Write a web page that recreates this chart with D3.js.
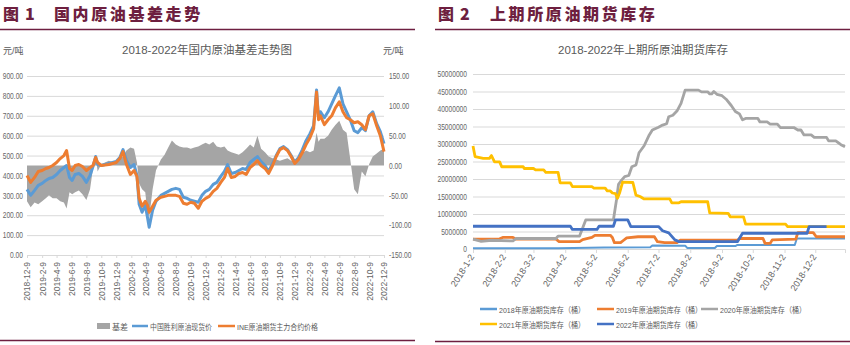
<!DOCTYPE html>
<html><head><meta charset="utf-8">
<script src="https://cdn.jsdelivr.net/npm/d3@7"></script>
<style>
body{margin:0;background:#fff;}
svg{display:block;}
.num{font-family:"Liberation Sans",Arial,sans-serif;fill:#666;}
.cjk{font-family:"Liberation Sans","Noto Sans CJK SC",sans-serif;fill:#595959;}
.ttl{font-family:"Noto Sans CJK SC",sans-serif;font-weight:900;fill:#6e1f40;}
</style></head><body>
<svg id="c" width="850" height="345"></svg>
<script>
// ---------- Figure 1 data ----------
const dates1 = ["2018-12-09","2018-12-24","2019-01-09","2019-01-24","2019-02-09","2019-02-24","2019-03-09","2019-03-24","2019-04-09","2019-04-24","2019-05-09","2019-05-20","2019-06-01","2019-06-12","2019-06-24","2019-07-09","2019-07-24","2019-08-09","2019-08-24","2019-09-05","2019-09-16","2019-09-24","2019-10-09","2019-10-24","2019-11-09","2019-11-24","2019-12-09","2019-12-24","2020-01-06","2020-01-20","2020-02-05","2020-02-20","2020-03-03","2020-03-12","2020-03-24","2020-04-06","2020-04-15","2020-04-22","2020-05-06","2020-05-20","2020-06-09","2020-06-24","2020-07-09","2020-07-24","2020-08-09","2020-08-24","2020-09-09","2020-09-24","2020-10-09","2020-10-24","2020-11-09","2020-11-24","2020-12-09","2020-12-24","2021-01-09","2021-01-24","2021-02-09","2021-02-24","2021-03-09","2021-03-24","2021-04-09","2021-04-24","2021-05-09","2021-05-24","2021-06-09","2021-06-24","2021-07-09","2021-07-24","2021-08-09","2021-08-24","2021-09-09","2021-09-24","2021-10-09","2021-10-24","2021-11-09","2021-11-24","2021-12-09","2021-12-24","2022-01-09","2022-01-24","2022-02-09","2022-02-24","2022-03-08","2022-03-16","2022-03-24","2022-04-09","2022-04-24","2022-05-09","2022-05-24","2022-06-09","2022-06-24","2022-07-09","2022-07-24","2022-08-09","2022-08-24","2022-09-09","2022-09-24","2022-10-09","2022-10-24","2022-11-09","2022-11-24","2022-12-09"];
const spotPrice = [330,300,325,350,360,375,385,390,405,425,440,450,390,375,405,410,395,365,400,445,495,455,450,455,460,465,470,490,530,475,440,455,400,255,215,250,190,140,225,270,300,310,320,330,335,330,290,285,275,270,265,300,320,330,355,365,395,420,455,410,415,425,435,430,465,480,495,470,450,420,460,500,535,545,530,500,465,490,530,575,610,650,830,690,720,690,720,760,800,840,760,720,680,625,615,640,625,700,720,660,620,560];
const futuresPrice = [400,365,390,420,425,435,440,450,465,485,500,525,435,425,450,455,445,425,440,450,490,465,450,452,455,460,465,485,520,455,405,425,395,285,245,270,250,215,245,275,290,295,300,300,300,295,260,255,265,260,235,270,285,295,320,335,365,390,435,390,395,410,415,405,440,455,475,450,435,410,450,495,530,540,525,495,460,480,515,555,590,635,820,680,700,655,680,700,740,770,720,690,680,665,670,655,630,700,710,650,600,520];
const basis = [-60,-70,-62,-65,-60,-55,-50,-55,-55,-60,-62,-72,-45,-48,-45,-42,-48,-58,-40,-5,15,-10,2,5,8,6,8,12,15,25,30,28,5,-30,-40,-45,-80,-88,-40,-8,10,18,30,42,35,32,30,30,28,30,32,35,38,35,40,32,30,32,25,22,20,18,22,28,35,30,50,28,22,15,12,10,8,10,12,8,10,15,20,25,22,25,55,40,45,45,50,60,68,75,60,55,10,-40,-48,-10,-18,2,15,20,25,28];
const leftTicks = [0,100,200,300,400,500,600,700,800,900];
const rightTicks = [-150,-100,-50,0,50,100,150];
const xLabels1 = ["2018-12-9","2019-2-9","2019-4-9","2019-6-9","2019-8-9","2019-10-9","2019-12-9","2020-2-9","2020-4-9","2020-6-9","2020-8-9","2020-10-9","2020-12-9","2021-2-9","2021-4-9","2021-6-9","2021-8-9","2021-10-9","2021-12-9","2022-2-9","2022-4-9","2022-6-9","2022-8-9","2022-10-9","2022-12-9"];

// ---------- Figure 2 data ----------
const inv2018 = [["01-02",200000],["03-26",200000],["05-10",400000],["06-24",500000],["06-26",1000000],["07-28",950000],["07-30",300000],["08-26",300000],["08-28",850000],["09-15",850000],["09-17",1150000],["11-12",1150000],["11-14",3000000],["12-31",3000000]];
const inv2019 = [["01-02",2800000],["01-28",2900000],["01-31",3300000],["02-10",3300000],["02-13",2800000],["03-24",2800000],["03-27",2100000],["04-16",2100000],["04-19",2700000],["04-28",3300000],["05-01",3900000],["05-16",3900000],["05-18",3300000],["05-20",1800000],["05-26",1800000],["05-29",2500000],["06-01",3200000],["06-12",3500000],["06-28",3500000],["07-01",2100000],["07-08",1800000],["07-20",1800000],["07-23",2500000],["09-17",2500000],["09-19",3000000],["10-12",3000000],["10-14",1600000],["10-19",1600000],["10-21",2600000],["11-13",2800000],["11-15",4700000],["11-30",4700000],["12-03",3500000],["12-31",3500000]];
const inv2020 = [["01-02",2800000],["01-10",2200000],["01-20",2500000],["02-10",2300000],["02-13",3000000],["03-24",3000000],["03-26",3700000],["04-16",3700000],["04-22",8300000],["05-19",8300000],["05-22",14000000],["05-24",18500000],["05-27",19700000],["05-30",20700000],["06-03",21000000],["06-06",23500000],["06-10",24000000],["06-13",27500000],["06-18",29500000],["06-23",32600000],["06-26",34000000],["07-02",34800000],["07-06",35400000],["07-10",35800000],["07-12",37800000],["07-16",38200000],["07-20",39400000],["07-24",41600000],["07-28",45400000],["08-10",45400000],["08-13",44900000],["08-19",44900000],["08-21",44300000],["08-23",44300000],["08-25",45000000],["08-28",44200000],["09-02",43800000],["09-06",42800000],["09-11",41000000],["09-15",39300000],["09-19",38600000],["09-22",36900000],["09-25",37300000],["10-07",37300000],["10-09",36300000],["10-16",36300000],["10-19",35700000],["10-26",35700000],["10-29",34700000],["11-11",34700000],["11-15",34000000],["11-18",34000000],["11-21",32600000],["11-28",32600000],["12-01",31900000],["12-13",31900000],["12-15",30900000],["12-22",30900000],["12-27",29800000],["12-31",29200000]];
const inv2021 = [["01-02",29400000],["01-04",26400000],["01-12",25900000],["01-18",25900000],["01-20",26700000],["01-23",24900000],["01-28",24900000],["01-30",23500000],["02-20",23500000],["02-21",23000000],["03-02",23000000],["03-04",22600000],["03-12",22600000],["03-14",21900000],["03-26",21900000],["03-28",18900000],["04-07",18900000],["04-09",17800000],["04-28",17800000],["04-30",17400000],["05-11",17400000],["05-13",16600000],["05-16",16600000],["05-18",16000000],["05-21",15800000],["05-23",14500000],["05-25",16000000],["05-28",19100000],["06-07",19000000],["06-10",15400000],["06-14",15000000],["06-18",14300000],["07-13",14300000],["07-15",13200000],["07-22",13200000],["07-24",13500000],["08-19",13500000],["08-21",10300000],["09-08",10200000],["09-10",9200000],["09-23",9200000],["09-25",7100000],["11-03",7100000],["11-05",6400000],["12-31",6400000]];
const inv2022 = [["01-02",6500000],["04-07",6500000],["04-09",5600000],["05-03",5600000],["05-05",6500000],["05-19",6500000],["05-21",8300000],["06-02",8300000],["06-05",6400000],["07-02",6400000],["07-06",5200000],["07-12",4600000],["07-18",2600000],["07-22",2100000],["09-17",2100000],["09-22",4500000],["11-24",4500000],["11-26",6400000],["12-13",6400000]];
const invTicks = [0,5000000,10000000,15000000,20000000,25000000,30000000,35000000,40000000,45000000,50000000];
const xLabels2 = ["2018-1-2","2018-2-2","2018-3-2","2018-4-2","2018-5-2","2018-6-2","2018-7-2","2018-8-2","2018-9-2","2018-10-2","2018-11-2","2018-12-2"];
const seriesNames2 = ["2018年原油期货库存（桶）","2019年原油期货库存（桶）","2020年原油期货库存（桶）","2021年原油期货库存（桶）","2022年原油期货库存（桶）"];
const seriesColors2 = ["#5B9BD5","#ED7D31","#A5A5A5","#FFC000","#4472C4"];

const svg = d3.select("#c");
const maroon = "#6e1f40";
const grid = "#D9D9D9";
const parse = d3.timeParse("%Y-%m-%d");

function narrow(sel, f) {
  sel.each(function(){ const w = this.getComputedTextLength(); this.setAttribute("textLength", w*f); this.setAttribute("lengthAdjust","spacingAndGlyphs"); });
}
function fitText(sel, w) { sel.attr("textLength", w).attr("lengthAdjust","spacingAndGlyphs"); }

// ---------- Titles ----------
function header(x0, x1, num, name, nameX) {
  svg.append("text").attr("class","ttl").attr("x",x0+3).attr("y",20).attr("font-size",16).text("图");
  svg.append("text").attr("class","ttl").attr("x",x0+25).attr("y",20).attr("font-size",16).text(num);
  svg.append("text").attr("class","ttl").attr("x",nameX).attr("y",20).attr("font-size",16).attr("letter-spacing","2.6px").text(name);
  svg.append("line").attr("x1",x0).attr("x2",x1).attr("y1",29.5).attr("y2",29.5).attr("stroke",maroon).attr("stroke-width",1.5);
}
header(0,415,"1","国内原油基差走势",54);
header(435,850,"2","上期所原油期货库存",490);
svg.append("line").attr("x1",0).attr("x2",415).attr("y1",340.5).attr("y2",340.5).attr("stroke",maroon).attr("stroke-width",1.5);
svg.append("line").attr("x1",435).attr("x2",850).attr("y1",341.5).attr("y2",341.5).attr("stroke",maroon).attr("stroke-width",1.5);

// ---------- Figure 1 ----------
const x1 = d3.scaleTime().domain([parse("2018-12-09"), parse("2022-12-09")]).range([27,384]);
const yL = d3.scaleLinear().domain([0,900]).range([255,76]);
const yR = d3.scaleLinear().domain([-150,150]).range([255,76]);
const g1 = svg.append("g");

g1.append("text").attr("class","cjk").attr("x",207).attr("y",54).attr("text-anchor","middle").attr("font-size",11.5).text("2018-2022年国内原油基差走势图");
g1.append("text").attr("class","cjk").attr("x",3).attr("y",54).attr("font-size",9).attr("fill","#404040").text("元/吨");
g1.append("text").attr("class","cjk").attr("x",383).attr("y",54).attr("font-size",9).attr("fill","#404040").text("元/吨");

const gridAx = g1.append("g").attr("transform","translate(27,0)")
  .call(d3.axisLeft(yL).tickValues(leftTicks).tickSize(-357).tickFormat(""));
gridAx.selectAll("line").attr("stroke",grid);
gridAx.select(".domain").remove();

const la = g1.append("g").attr("transform","translate(27,0)")
  .call(d3.axisLeft(yL).tickValues(leftTicks).tickSize(0).tickPadding(4).tickFormat(d=>d.toFixed(2)));
la.select(".domain").remove();
la.selectAll("text").attr("class","num").attr("font-size",8.5).call(narrow,0.78);
const ra = g1.append("g").attr("transform","translate(384,0)")
  .call(d3.axisRight(yR).tickValues(rightTicks).tickSize(0).tickPadding(5).tickFormat(d=>d.toFixed(2)));
ra.select(".domain").remove();
ra.selectAll("text").attr("class","num").attr("font-size",8.5).call(narrow,0.78);

const d1 = dates1.map((d,i)=>({t:parse(d), s:spotPrice[i], f:futuresPrice[i], b:basis[i]}));
g1.append("path").datum(d1)
  .attr("d", d3.area().x(d=>x1(d.t)).y0(yR(0)).y1(d=>yR(d.b)))
  .attr("fill","#A5A5A5");
g1.append("path").datum(d1).attr("d", d3.line().x(d=>x1(d.t)).y(d=>yL(d.s)))
  .attr("fill","none").attr("stroke","#5B9BD5").attr("stroke-width",3).attr("stroke-linejoin","round");
g1.append("path").datum(d1).attr("d", d3.line().x(d=>x1(d.t)).y(d=>yL(d.f)))
  .attr("fill","none").attr("stroke","#ED7D31").attr("stroke-width",3).attr("stroke-linejoin","round");

const xt1 = xLabels1.map(s=>parse(s.replace(/-(\d)$/,"-0$1").replace(/-(\d)-/,"-0$1-")));
const xa1 = g1.append("g").attr("transform","translate(0,255)")
  .call(d3.axisBottom(x1).tickValues(xt1).tickSize(3).tickFormat((d,i)=>xLabels1[i]));
xa1.select(".domain").attr("stroke",grid);
xa1.selectAll("line").attr("stroke",grid);
xa1.selectAll("text").attr("class","num").attr("font-size",8.5)
  .attr("text-anchor","end").attr("transform","rotate(-90)").attr("x",-7).attr("y",0).attr("dy","0.35em");

const lg1 = g1.append("g");
lg1.append("rect").attr("x",97).attr("y",323).attr("width",13).attr("height",6).attr("fill","#A5A5A5");
lg1.append("text").attr("class","cjk").attr("x",112).attr("y",329.5).attr("font-size",8).text("基差").call(fitText,16);
lg1.append("line").attr("x1",132).attr("x2",148).attr("y1",326).attr("y2",326).attr("stroke","#5B9BD5").attr("stroke-width",2.5);
lg1.append("text").attr("class","cjk").attr("x",150).attr("y",329.5).attr("font-size",8).text("中国胜利原油现货价").call(fitText,62);
lg1.append("line").attr("x1",218).attr("x2",235).attr("y1",326).attr("y2",326).attr("stroke","#ED7D31").attr("stroke-width",2.5);
lg1.append("text").attr("class","cjk").attr("x",237).attr("y",329.5).attr("font-size",8).text("INE原油期货主力合约价格").call(fitText,81);

// ---------- Figure 2 ----------
const x2 = d3.scaleTime().domain([parse("2018-01-02"), parse("2018-12-31")]).range([473,845]);
const y2 = d3.scaleLinear().domain([0,50000000]).range([249,74]);
const g2 = svg.append("g");
g2.append("text").attr("class","cjk").attr("x",643).attr("y",54).attr("text-anchor","middle").attr("font-size",11.5).text("2018-2022年上期所原油期货库存");

const grid2 = g2.append("g").attr("transform","translate(473,0)")
  .call(d3.axisLeft(y2).tickValues(invTicks.slice(1)).tickSize(-372).tickFormat(""));
grid2.selectAll("line").attr("stroke",grid);
grid2.select(".domain").remove();
const ya2 = g2.append("g").attr("transform","translate(473,0)")
  .call(d3.axisLeft(y2).tickValues(invTicks).tickSize(0).tickPadding(6).tickFormat(d=>String(d)));
ya2.select(".domain").remove();
ya2.selectAll("text").attr("class","num").attr("font-size",8.5).call(narrow,0.78);

const xt2 = xLabels2.map(s=>parse(s.replace(/-(\d)$/,"-0$1").replace(/-(\d)-/,"-0$1-")));
const xa2 = g2.append("g").attr("transform","translate(0,249)")
  .call(d3.axisBottom(x2).tickValues(xt2).tickSize(4).tickFormat((d,i)=>xLabels2[i]));
xa2.select(".domain").attr("stroke",grid);
xa2.selectAll("line").attr("stroke",grid);
xa2.selectAll("text").attr("class","num").attr("font-size",9)
  .attr("text-anchor","end").attr("transform","rotate(-58)").attr("x",-6).attr("y",2).attr("dy","0.35em");

const allInv = [inv2018, inv2019, inv2020, inv2021, inv2022];
const line2 = d3.line().x(d=>x2(parse("2018-"+d[0]))).y(d=>y2(d[1]));
allInv.forEach((s,i)=>{
  g2.append("path").datum(s).attr("d",line2).attr("fill","none")
    .attr("stroke",seriesColors2[i]).attr("stroke-width",i===0?2:2.8).attr("stroke-linejoin","round");
});

const lp = [[480,309],[597,309],[701,309],[480,324],[597,324]];
seriesNames2.forEach((n,i)=>{
  const [lx,ly]=lp[i];
  g2.append("line").attr("x1",lx).attr("x2",lx+17).attr("y1",ly).attr("y2",ly).attr("stroke",seriesColors2[i]).attr("stroke-width",2.5);
  g2.append("text").attr("class","cjk").attr("x",lx+19).attr("y",ly+3.5).attr("font-size",8).text(n).call(fitText,86);
});
</script></body></html>
